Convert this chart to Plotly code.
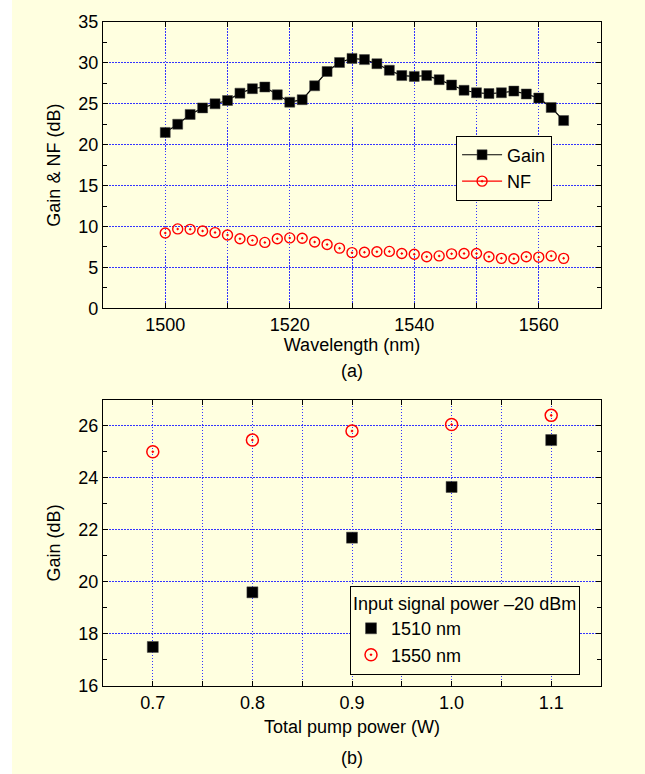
import plotly.graph_objects as go
from plotly.subplots import make_subplots

# ---- data (a) ----
wavelength = [1500, 1502, 1504, 1506, 1508, 1510, 1512, 1514, 1516, 1518, 1520,
              1522, 1524, 1526, 1528, 1530, 1532, 1534, 1536, 1538, 1540, 1542,
              1544, 1546, 1548, 1550, 1552, 1554, 1556, 1558, 1560, 1562, 1564]
gain_a = [21.5, 22.5, 23.7, 24.5, 25.0, 25.4, 26.3, 26.85, 27.05, 26.1, 25.2,
          25.5, 27.2, 28.95, 30.05, 30.55, 30.4, 29.9, 29.1, 28.45, 28.35, 28.45,
          27.95, 27.3, 26.65, 26.35, 26.25, 26.35, 26.55, 26.2, 25.7, 24.55, 22.95]
nf_a = [9.2, 9.7, 9.65, 9.45, 9.25, 8.95, 8.5, 8.3, 8.05, 8.5, 8.6,
        8.55, 8.1, 7.8, 7.35, 6.8, 6.85, 6.9, 6.95, 6.7, 6.6, 6.3,
        6.4, 6.65, 6.7, 6.7, 6.3, 6.1, 6.05, 6.3, 6.25, 6.4, 6.1]
wl_tickvals = [1500, 1510, 1520, 1530, 1540, 1550, 1560]
wl_ticktext = ["1500", "", "1520", "", "1540", "", "1560"]

# ---- data (b) ----
pump_power = [0.7, 0.8, 0.9, 1.0, 1.1]
gain_1510 = [17.5, 19.6, 21.7, 23.65, 25.45]
gain_1550 = [25.0, 25.45, 25.8, 26.05, 26.4]
pp_tickvals = [0.7, 0.75, 0.8, 0.85, 0.9, 0.95, 1.0, 1.05, 1.1]
pp_ticktext = ["0.7", "", "0.8", "", "0.9", "", "1.0", "", "1.1"]

BG = "#FFFFE0"
GRID = "#3333FF"
DOT = "1.5px,1.5px"
FONT = "Liberation Sans, Arial, sans-serif"
FS = 18

fig = make_subplots(rows=2, cols=1, vertical_spacing=0.1378)

fig.add_trace(go.Scatter(x=wavelength, y=gain_a, mode="lines+markers", name="Gain",
                         line=dict(color="black", width=1.2),
                         marker=dict(symbol="square", size=10, color="black",
                                     line=dict(color="#444444", width=0.5)),
                         legend="legend"), row=1, col=1)
fig.add_trace(go.Scatter(x=wavelength, y=nf_a, mode="markers", name="NF",
                         marker=dict(symbol="circle-open-dot", size=10, color="red",
                                     line=dict(color="red", width=1.4)),
                         showlegend=False, legend="legend"), row=1, col=1)
# legend proxy for NF (line + marker as in the original legend)
fig.add_trace(go.Scatter(x=[None], y=[None], mode="lines+markers", name="NF",
                         line=dict(color="red", width=1.2),
                         marker=dict(symbol="circle-open-dot", size=10, color="red",
                                     line=dict(color="red", width=1.4)),
                         legend="legend"), row=1, col=1)

fig.add_trace(go.Scatter(x=pump_power, y=gain_1510, mode="markers", name="1510 nm",
                         marker=dict(symbol="square", size=11, color="black",
                                     line=dict(color="#444444", width=0.5)),
                         legend="legend2"), row=2, col=1)
fig.add_trace(go.Scatter(x=pump_power, y=gain_1550, mode="markers", name="1550 nm",
                         marker=dict(symbol="circle-open-dot", size=12, color="red",
                                     line=dict(color="red", width=1.5)),
                         legend="legend2"), row=2, col=1)

axis_common = dict(showline=True, linecolor="black", linewidth=1.3, mirror="ticks",
                   ticks="inside", ticklen=5, tickcolor="black", tickwidth=1,
                   showgrid=True, gridcolor=GRID, gridwidth=1, griddash=DOT,
                   zeroline=False, tickfont=dict(family=FONT, size=FS, color="black"),
                   title_font=dict(family=FONT, size=FS, color="black"))

fig.update_xaxes(axis_common, row=1, col=1, range=[1490, 1570],
                 tickmode="array", tickvals=wl_tickvals, ticktext=wl_ticktext,
                 title=dict(text="Wavelength (nm)", standoff=2))
fig.update_yaxes(axis_common, row=1, col=1, range=[0, 35], dtick=5,
                 minor=dict(dtick=2.5, ticks="inside", ticklen=4, tickcolor="black",
                            showgrid=False),
                 title=dict(text="Gain &amp; NF (dB)", standoff=12))
fig.update_xaxes(axis_common, row=2, col=1, range=[0.65, 1.15],
                 tickmode="array", tickvals=pp_tickvals, ticktext=pp_ticktext,
                 title=dict(text="Total pump power (W)", standoff=8))
fig.update_yaxes(axis_common, row=2, col=1, range=[16, 27], dtick=2, tick0=16,
                 minor=dict(dtick=1, ticks="inside", ticklen=4, tickcolor="black",
                            showgrid=False),
                 title=dict(text="Gain (dB)", standoff=12))

fig.update_layout(
    width=645, height=774,
    margin=dict(l=103, r=44, t=18, b=88),
    paper_bgcolor=BG, plot_bgcolor=BG,
    font=dict(family=FONT, size=FS, color="black"),
    legend=dict(x=0.709, y=0.829, xanchor="left", yanchor="top",
                bgcolor=BG, bordercolor="black", borderwidth=1,
                font=dict(family=FONT, size=FS), tracegroupgap=0,
                itemwidth=40),
    legend2=dict(x=0.496, y=0.151, xanchor="left", yanchor="top",
                 bgcolor=BG, bordercolor="black", borderwidth=1,
                 font=dict(family=FONT, size=FS),
                 title=dict(text="Input signal power \u201320 dBm",
                            font=dict(family=FONT, size=FS)),
                 itemwidth=30),
    annotations=[
        dict(text="(a)", x=0.5, y=0.474, xref="paper", yref="paper",
             showarrow=False, font=dict(family=FONT, size=FS), yanchor="middle"),
        dict(text="(b)", x=0.5, y=-0.108, xref="paper", yref="paper",
             showarrow=False, font=dict(family=FONT, size=FS), yanchor="middle"),
    ],
    shapes=[dict(type="rect", xref="paper", yref="paper",
                 x0=-0.25, x1=(12 - 103) / 498, y0=-0.2, y1=1.1,
                 fillcolor="white", line=dict(width=0), layer="below")],
)

fig.write_html("out.html", config={"displayModeBar": False},
               post_script="document.body.style.margin='0';document.body.style.overflow='hidden';")
